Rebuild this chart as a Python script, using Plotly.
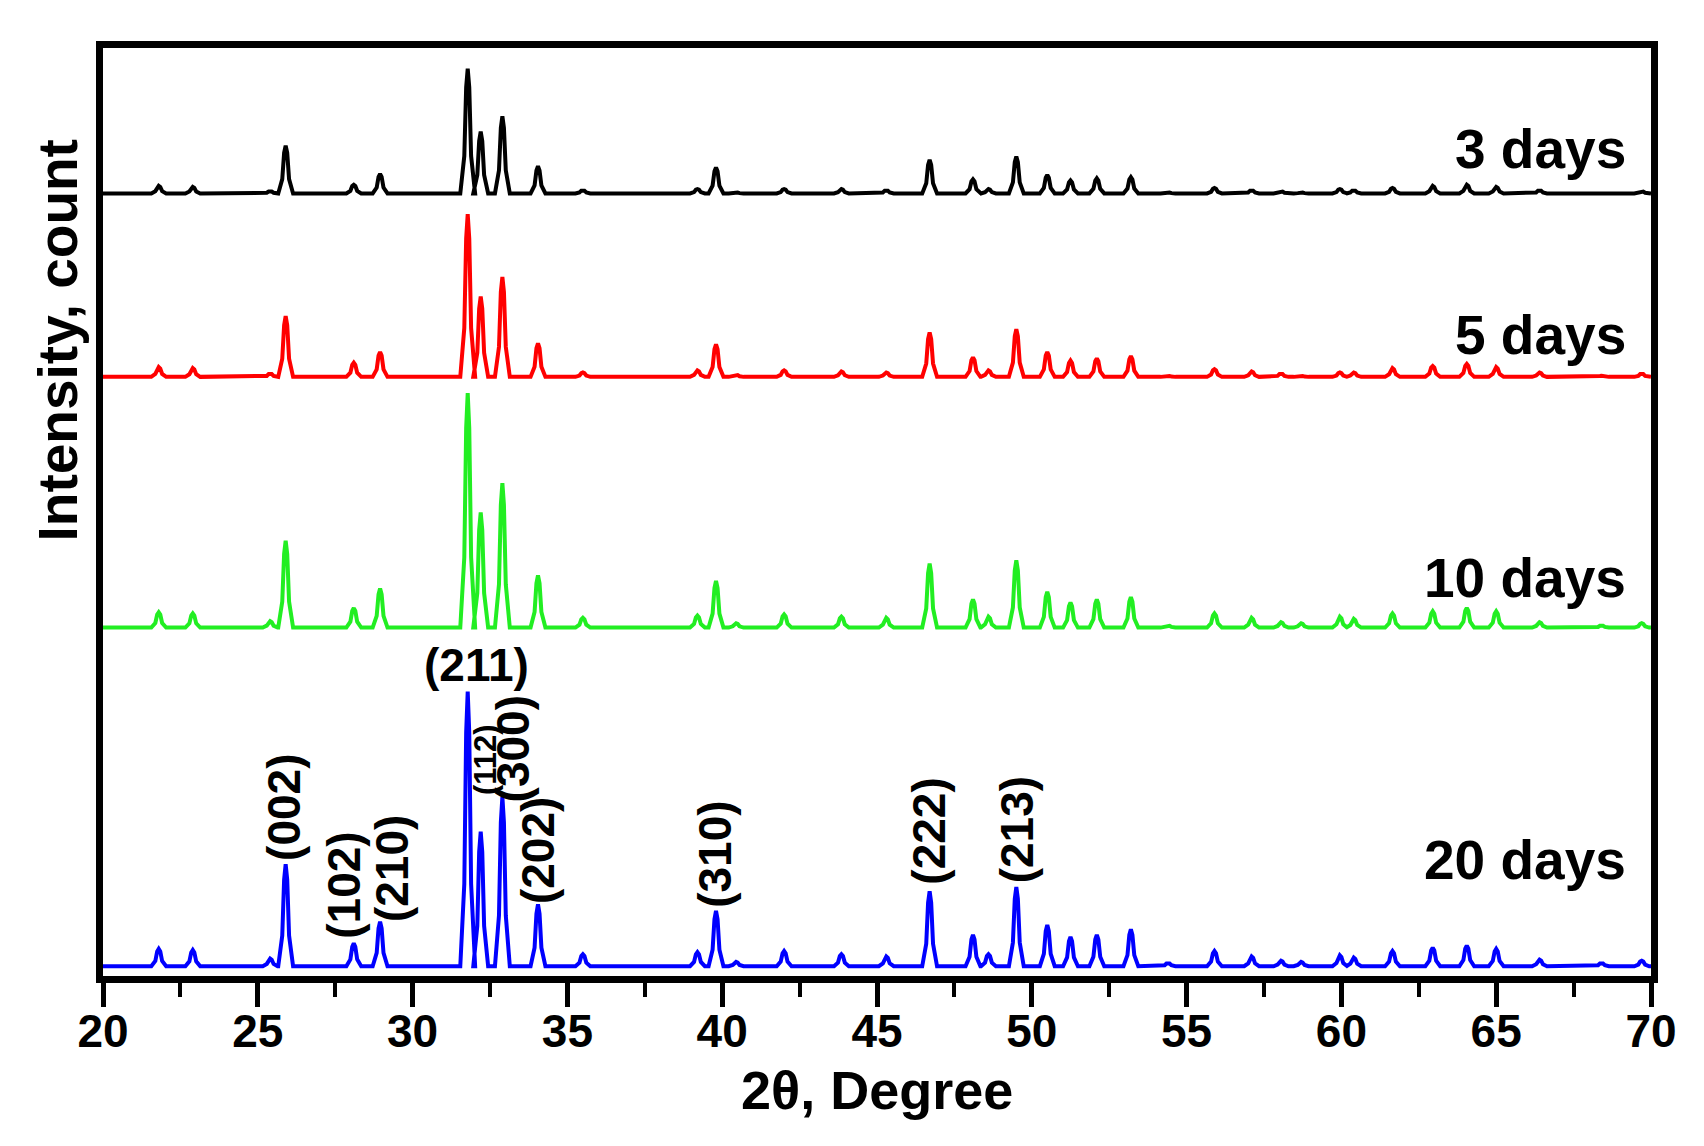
import plotly.graph_objects as go

# peak positions (2theta, degree) shared by all patterns
peaks = [21.8, 22.9, 25.4, 25.9, 28.1, 28.95, 31.78, 32.2, 32.9, 34.05, 35.5,
         39.2, 39.8, 40.45, 42.0, 43.85, 45.3, 46.7, 48.1, 48.6, 49.5, 50.5,
         51.25, 52.1, 53.2, 54.4, 55.9, 57.1, 58.05, 58.7, 59.95, 60.4, 61.65,
         62.95, 64.05, 65.0, 66.4, 68.4, 69.7]

# peak heights (arbitrary counts)
h_3d = [7, 6, 2, 44, 8, 18, 115, 57, 71, 25, 3, 4, 24, 1, 4, 4, 3, 31, 13, 4, 34, 17,
        12, 14, 15, 1, 5, 3, 2, 1, 4, 3, 5, 7, 8, 6, 3, 0, 2]
h_5d = [9, 8, 3, 56, 13, 23, 150, 74, 92, 31, 4, 6, 30, 2, 6, 5, 4, 41, 18, 6, 44, 23,
        15, 17, 19, 1, 7, 5, 3, 1, 4, 4, 8, 10, 12, 9, 4, 1, 3]
h_10d = [14, 13, 6, 80, 18, 36, 216, 106, 133, 48, 9, 11, 43, 4, 12, 10, 9, 59, 26, 10, 62, 33,
         23, 26, 28, 2, 13, 9, 5, 4, 10, 8, 13, 15, 18, 15, 5, 2, 4]
h_20d = [16, 15, 7, 94, 21, 41, 253, 124, 156, 57, 11, 13, 51, 4, 14, 11, 9, 69, 29, 11, 73, 38,
         27, 29, 34, 3, 14, 9, 5, 4, 10, 8, 14, 17, 19, 16, 6, 3, 5]

# vertical offset of each pattern
offsets = {'3 days': 721, '5 days': 552, '10 days': 321, '20 days': 9}
series = {'3 days': h_3d, '5 days': h_5d, '10 days': h_10d, '20 days': h_20d}
colors = {'3 days': '#000000', '5 days': '#ff0000', '10 days': '#22ee22', '20 days': '#0000ff'}
label_y = {'3 days': 762, '5 days': 591, '10 days': 367, '20 days': 107}

# miller indices for the 20 days pattern
hkl = ['(002)', '(102)', '(210)', '(211)', '(112)', '(300)', '(202)', '(310)', '(222)', '(213)']
hkl_x = [25.85, 27.78, 29.32, 32.05, 32.34, 33.25, 34.05, 39.78, 46.68, 49.55]
hkl_y = [155, 84, 99, 287, 199, 209, 116, 112, 133, 135]

# peak profile (style)
prof_dx = [-0.24, -0.11, -0.05, 0, 0.05, 0.11, 0.24]
prof_f = [0, 0.3, 0.85, 1, 0.85, 0.3, 0]

font = 'Liberation Sans, Arial, sans-serif'

fig = go.Figure()
for name, hs in series.items():
    base = offsets[name]
    xs = [20]
    ys = [base]
    for p, h in zip(peaks, hs):
        if h <= 0:
            continue
        for dx, f in zip(prof_dx, prof_f):
            xs.append(p + dx)
            ys.append(base + f * h)
    xs.append(70)
    ys.append(base)
    fig.add_scatter(x=xs, y=ys, mode='lines', name=name,
                    line=dict(color=colors[name], width=4))
    fig.add_annotation(x=69.25, y=label_y[name], text=name, showarrow=False,
                       xanchor='right', yanchor='middle',
                       font=dict(family=font, size=55, color='black', weight='bold'))

for t, x, y in zip(hkl, hkl_x, hkl_y):
    fig.add_annotation(x=x, y=y, text=t, showarrow=False,
                       textangle=0 if t == '(211)' else -90,
                       xanchor='center', yanchor='middle',
                       font=dict(family=font, size=31 if t == '(112)' else 46,
                                 color='black', weight='bold'))

# axis titles
fig.add_annotation(xref='paper', yref='paper', x=-0.029, y=0.685, text='Intensity, count',
                   textangle=-90, showarrow=False, xanchor='center', yanchor='middle',
                   font=dict(family=font, size=55, color='black', weight='bold'))
fig.add_annotation(xref='paper', yref='paper', x=0.5, y=-0.123, text='2θ, Degree',
                   showarrow=False, xanchor='center', yanchor='middle',
                   font=dict(family=font, size=54, color='black', weight='bold'))

fig.update_xaxes(range=[20, 70], tickmode='linear', tick0=20, dtick=5,
                 ticks='outside', ticklen=24, tickwidth=5, tickcolor='black',
                 minor=dict(dtick=2.5, ticks='outside', ticklen=14, tickwidth=4, tickcolor='black'),
                 showline=True, linewidth=7, linecolor='black', mirror=True,
                 showgrid=False, zeroline=False, ticklabelstandoff=-15,
                 tickfont=dict(family=font, size=46, color='black', weight='bold'))
fig.update_yaxes(range=[0, 855], showticklabels=False, ticks='',
                 showline=True, linewidth=7, linecolor='black', mirror=True,
                 showgrid=False, zeroline=False)
fig.update_layout(width=1704, height=1146, showlegend=False,
                  plot_bgcolor='white', paper_bgcolor='white',
                  margin=dict(l=95, r=61, t=40, b=178))
fig.write_html('out.html')
